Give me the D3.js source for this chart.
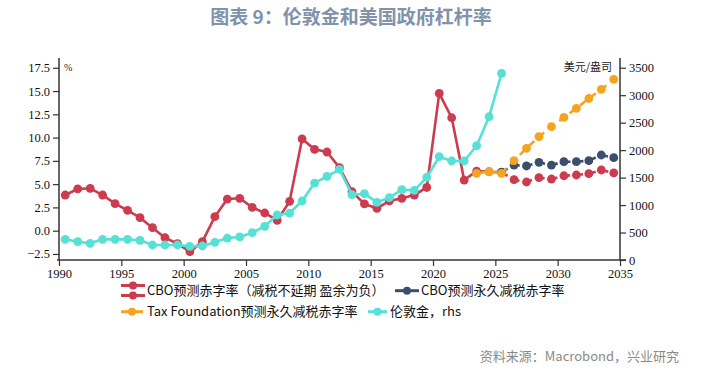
<!DOCTYPE html>
<html><head><meta charset="utf-8">
<script src="https://cdn.jsdelivr.net/npm/d3@7"></script>
<style>body{margin:0;background:#fff}svg{display:block}</style>
</head><body>
<svg id="c" width="703" height="374"></svg>
<script>
// ---- data ----
const cboYears = d3.range(1990, 2035);
const cboDeficit = [3.83,4.48,4.55,3.83,2.9,2.19,1.4,0.32,-0.75,-1.4,-2.25,-1.18,1.5,3.4,3.48,2.5,1.9,1.1,3.15,9.85,8.74,8.45,6.77,4.19,2.87,2.4,3.19,3.48,3.83,4.64,14.75,12.13,5.44,6.4,6.33,6.27,5.48,5.23,5.69,5.55,5.9,5.98,6.12,6.52,6.2];
const cboHistEnd = 2025;
const cboPermYears = d3.range(2025, 2035);
const cboPermDeficit = [6.3,7.05,6.95,7.34,7.05,7.41,7.41,7.52,8.13,7.84];
const tfYears = d3.range(2023, 2035);
const tfDeficit = [6.16,6.33,6.16,7.52,8.85,10.1,11.17,12.17,13.14,14.2,15.18,16.25];
const tfHistEnd = 2025;
const goldYears = d3.range(1990, 2026);
const goldPrice = [376,333,303,376,376,376,358,273,273,273,248,255,322,400,420,497,613,819,855,1074,1401,1523,1650,1189,1207,1050,1134,1280,1268,1505,1880,1802,1802,2080,2608,3398];
const leftTicks = [-2.5,0,2.5,5,7.5,10,12.5,15,17.5];
const rightTicks = [0,500,1000,1500,2000,2500,3000,3500];
const xTicks = [1990,1995,2000,2005,2010,2015,2020,2025,2030,2035];
const labels = {
  title: "图表 9：伦敦金和美国政府杠杆率",
  leftUnit: "%",
  rightUnit: "美元/盎司",
  cbo: "CBO预测赤字率（减税不延期 盈余为负）",
  cboPerm: "CBO预测永久减税赤字率",
  tf: "Tax Foundation预测永久减税赤字率",
  gold: "伦敦金，rhs",
  source: "资料来源：Macrobond，兴业研究"
};
const colors = {red:"#cc3b4e", navy:"#3c4d6d", orange:"#f5a41f", cyan:"#56e0d6"};

// ---- layout ----
const svg = d3.select("#c");
const X0 = 59, X1 = 620, Y0 = 260, Y1 = 58;
const x = d3.scaleLinear().domain([1990, 2035]).range([X0, X1]);
const yL = d3.scaleLinear().domain([-3.15, 18.55]).range([Y0, Y1]);
const yR = d3.scaleLinear().domain([0, 3677]).range([Y0, Y1]);
const px = yr => x(yr + 0.5);

svg.append("text").attr("x", 351).attr("y", 24).attr("text-anchor","middle")
  .attr("font-family","'Noto Sans CJK SC','Noto Sans',sans-serif").attr("font-weight","bold")
  .attr("font-size",19).attr("fill","#8193ab").text(labels.title);

const tickFont = "'Liberation Serif','Times New Roman',serif";
const axL = d3.axisLeft(yL).tickValues(leftTicks).tickFormat(d3.format(".1f")).tickSize(6).tickSizeOuter(0);
const axR = d3.axisRight(yR).tickValues(rightTicks).tickFormat(d3.format("d")).tickSize(6).tickSizeOuter(0);
const axB = d3.axisBottom(x).tickValues(xTicks).tickFormat(d3.format("d")).tickSize(6).tickSizeOuter(0);

function style(g){
  g.selectAll("path").attr("stroke","#333").attr("stroke-width",1.5);
  g.selectAll("line").attr("stroke","#333").attr("stroke-width",1.2);
  g.selectAll("text").attr("font-family",tickFont).attr("font-size",12.5).attr("fill","#111");
}
svg.append("g").attr("transform",`translate(${X0},0)`).call(axL).call(style)
  .call(g=>g.select(".domain").attr("d",`M0,${Y1}V${Y0}`));
svg.append("g").attr("transform",`translate(${X1},0)`).call(axR).call(style)
  .call(g=>g.select(".domain").attr("d",`M0,${Y1}V${Y0}`));
svg.append("g").attr("transform",`translate(0,${Y0})`).call(axB).call(style)
  .call(g=>g.select(".domain").attr("d",`M${X0-2},0H${X1+6}`));

svg.append("text").attr("x",64).attr("y",71).attr("font-family",tickFont).attr("font-size",10).attr("fill","#222").text(labels.leftUnit);
svg.append("text").attr("x",612).attr("y",71).attr("text-anchor","end")
  .attr("font-family","'Noto Sans CJK SC',sans-serif").attr("font-size",11).attr("fill","#222").text(labels.rightUnit);

// ---- series ----
const plot = svg.append("g");
function series(years, vals, yS, color, dashFrom, solidFrom){
  const pts = years.map((yr,i)=>({yr, v: vals[i]}));
  const line = d3.line().x(d=>px(d.yr)).y(d=>yS(d.v));
  const solid = pts.filter(d=>d.yr <= dashFrom && d.yr >= (solidFrom ?? -Infinity));
  const dashed = pts.filter(d=>d.yr >= dashFrom);
  if (solid.length > 1) plot.append("path").attr("d", line(solid)).attr("fill","none")
    .attr("stroke",color).attr("stroke-width",2.6).attr("stroke-linejoin","round");
  if (dashed.length > 1) plot.append("path").attr("d", line(dashed)).attr("fill","none")
    .attr("stroke",color).attr("stroke-width",2.6).attr("stroke-dasharray","7,6");
  plot.append("g").selectAll("circle").data(pts).join("circle")
    .attr("cx",d=>px(d.yr)).attr("cy",d=>yS(d.v)).attr("r",4.4).attr("fill",color);
}
series(cboYears, cboDeficit, yL, colors.red, cboHistEnd);
series(cboPermYears, cboPermDeficit, yL, colors.navy, 2025);
series(tfYears, tfDeficit, yL, colors.orange, tfHistEnd);
series(goldYears, goldPrice, yR, colors.cyan, 9999);

// ---- legend ----
const legFont = "'Noto Sans CJK SC','Noto Sans',sans-serif";
function legItem(x0, x1, yc, color, text, tx){
  const g = svg.append("g");
  g.append("line").attr("x1",x0).attr("x2",x1).attr("y1",yc).attr("y2",yc).attr("stroke",color).attr("stroke-width",3);
  g.append("circle").attr("cx",(x0+x1)/2).attr("cy",yc).attr("r",4).attr("fill",color);
  if (text) g.append("text").attr("x",tx).attr("y",yc+4.5).attr("font-family",legFont).attr("font-size",13).attr("fill","#111").text(text);
}
legItem(121,145,285.5,colors.red,null);
legItem(121,145,295.5,colors.red,labels.cbo,147);
// center the text of first row vertically between the two icons
svg.selectAll("text").filter(function(){return d3.select(this).text()===labels.cbo;}).attr("y",295);
legItem(395,419,290.7,colors.navy,labels.cboPerm,421);
legItem(121,143,311.7,colors.orange,labels.tf,147);
legItem(368,387,311.7,colors.cyan,labels.gold,390);

svg.append("text").attr("x",679).attr("y",361).attr("text-anchor","end")
  .attr("font-family","'Noto Sans CJK SC','Noto Sans',sans-serif").attr("font-size",13).attr("fill","#8a8a8a").text(labels.source);
</script>
</body></html>
